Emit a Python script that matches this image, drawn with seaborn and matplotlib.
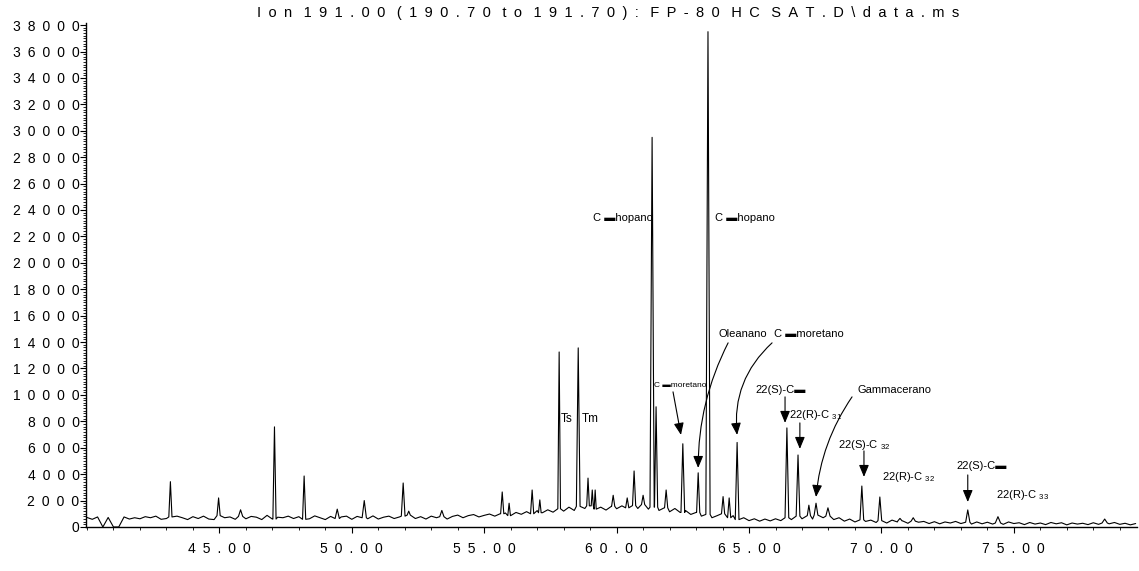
import numpy as np
import pandas as pd
import matplotlib
matplotlib.use("Agg")
import matplotlib.pyplot as plt
import seaborn as sns
from matplotlib.ticker import MultipleLocator, FixedLocator, FuncFormatter

# baseline abundance, one value every 0.2 min from 40.0 min
base_start = 40.0
base_step = 0.2
baseline = [
    720, 580, 760, 0, 720, 0, 0, 760, 600, 700,            # 40
    620, 780, 700, 820, 580, 640, 760, 820, 700, 560,      # 42
    780, 640, 820, 600, 560, 860, 700, 760, 580, 800,      # 44
    620, 800, 740, 560, 880, 600, 740, 700, 820, 640,      # 46
    780, 580, 620, 840, 700, 560, 800, 640, 760, 820,      # 48
    580, 800, 700, 620, 840, 600, 740, 820, 640, 760,      # 50
    820, 900, 640, 780, 600, 820, 700, 780, 600, 800,      # 52
    900, 700, 860, 940, 760, 880, 980, 820, 1000, 1060,    # 54
    860, 1100, 960, 1160, 1000, 1240, 1080, 1300, 1120, 1380,  # 56
    1200, 1500, 1250, 1560, 1400, 1600, 1350, 1500, 1280, 1560,  # 58
    1380, 1600, 1450, 1620, 1400, 1700, 1350, 1500, 1250, 1450,  # 60
    1150, 1400, 1100, 1250, 950, 1100, 820, 950, 700, 860,  # 62
    1000, 700, 860, 560, 700, 480, 620, 440, 600, 460,     # 64
    620, 480, 700, 560, 820, 620, 860, 600, 900, 700,      # 66
    820, 560, 700, 440, 600, 380, 540, 420, 520, 340,      # 68
    480, 300, 520, 380, 460, 280, 440, 360, 420, 260,      # 70
    400, 240, 380, 300, 420, 260, 360, 220, 380, 240,      # 72
    360, 220, 300, 200, 380, 260, 320, 180, 340, 220,      # 74
    300, 180, 340, 240, 320, 160, 300, 220, 280, 180,      # 76
    320, 200, 300, 240, 340, 200, 280, 160, 260,           # 78
]

# peaks: retention time (min), apex abundance, half width (min)
peak_time = [43.15, 44.97, 45.80, 47.08, 48.20, 49.45, 50.47, 51.94, 52.15, 53.40,
             55.68, 55.94, 56.81, 57.10, 57.83, 58.55, 58.92, 59.08, 59.19, 59.87,
             60.40, 60.66, 61.00, 61.34, 61.49, 61.87, 62.50, 63.08, 63.45, 64.02,
             64.25, 64.55, 66.43, 66.85, 67.26, 67.53, 67.98, 69.26, 69.94, 70.70,
             71.20, 73.26, 74.40, 78.43]
peak_height = [3430, 2200, 1300, 7580, 3860, 1350, 2000, 3330, 1200, 1250,
               2650, 1800, 2800, 2050, 13250, 13560, 3700, 2800, 2800, 2400,
               2200, 4240, 2400, 29500, 9100, 2800, 6300, 4100, 37500, 2300,
               2200, 6400, 7500, 5450, 1650, 1800, 1450, 3100, 2270, 650,
               700, 1290, 780, 600]
peak_halfwidth = [0.06, 0.06, 0.08, 0.06, 0.06, 0.08, 0.08, 0.07, 0.06, 0.08,
                  0.06, 0.05, 0.06, 0.05, 0.05, 0.07, 0.05, 0.04, 0.04, 0.06,
                  0.06, 0.06, 0.06, 0.08, 0.06, 0.06, 0.07, 0.06, 0.08, 0.06,
                  0.06, 0.07, 0.07, 0.07, 0.06, 0.07, 0.08, 0.07, 0.07, 0.08,
                  0.08, 0.08, 0.10, 0.10]

# build the trace
base_time = base_start + base_step * np.arange(len(baseline))
points = []
for t, v in zip(base_time, baseline):
    if all(abs(t - pt) > hw for pt, hw in zip(peak_time, peak_halfwidth)):
        points.append((t, v))
for pt, ph, hw in zip(peak_time, peak_height, peak_halfwidth):
    foot = baseline[int(round((pt - base_start) / base_step))]
    points += [(pt - hw, foot), (pt, ph), (pt + hw, foot)]
points.sort()
trace = pd.DataFrame(points, columns=["time", "abundance"])

sns.set_theme(style="ticks")
plt.rcParams["font.family"] = ["Liberation Sans", "DejaVu Sans"]
plt.rcParams["mathtext.fontset"] = "custom"
plt.rcParams["mathtext.rm"] = "Liberation Sans"
plt.rcParams["mathtext.it"] = "Liberation Sans"


def spaced(s):
    return "\u2002 ".join("\u2002".join(w) for w in s.split(" "))


fig = plt.figure(figsize=(11.39, 5.71), dpi=100)
ax = fig.add_axes([0.0759, 0.0771, 0.9221, 0.8829])

sns.lineplot(data=trace, x="time", y="abundance", ax=ax, color="black",
             linewidth=0.8, estimator=None, sort=False)

ax.set_xlim(39.98, 79.64)
ax.set_ylim(0, 38170)
ax.set_xlabel("")
ax.set_ylabel("")
for side in ["top", "right"]:
    ax.spines[side].set_visible(False)
for side in ["left", "bottom"]:
    ax.spines[side].set_linewidth(1.0)
    ax.spines[side].set_color("black")

ax.xaxis.set_major_locator(FixedLocator([45, 50, 55, 60, 65, 70, 75]))
ax.xaxis.set_minor_locator(MultipleLocator(1))
ax.yaxis.set_major_locator(MultipleLocator(2000))
ax.yaxis.set_minor_locator(MultipleLocator(200))
ax.xaxis.set_major_formatter(FuncFormatter(lambda v, p: spaced(f"{v:.2f}")))
ax.yaxis.set_major_formatter(FuncFormatter(lambda v, p: spaced(f"{int(v)}")))
ax.tick_params(axis="both", which="major", direction="out", length=4,
               width=0.8, labelsize=10, colors="black")
ax.tick_params(axis="both", which="minor", direction="out", length=2.5,
               width=0.6, colors="black")
ax.tick_params(axis="x", which="major", pad=7)
ax.tick_params(axis="y", which="major", pad=1)

fig.text(0.534, 0.977, spaced("Ion 191.00 (190.70 to 191.70): FP-80 HC SAT.D\\data.ms"),
         ha="center", va="center", fontsize=10.5, color="black")

# peak labels
labels = [
    ("C \u25achopano", 59.11, 23400, 8),
    ("C \u25achopano", 63.72, 23400, 8),
    ("Ts", 57.90, 8180, 8.5),
    ("Tm", 58.70, 8180, 8.5),
    ("C \u25acmoretano", 61.42, 10680, 6),
    ("Oleanano", 63.83, 14620, 8),
    ("C \u25acmoretano", 65.94, 14620, 8),
    ("22(S)-C\u25ac", 65.26, 10380, 8),
    ("22(R)-C $_{31}$", 66.51, 8480, 8),
    ("Gammacerano", 69.08, 10380, 8),
    ("22(S)-C $_{32}$", 68.36, 6210, 8),
    ("22(R)-C $_{32}$", 70.02, 3790, 8),
    ("22(S)-C\u25ac", 72.85, 4620, 8),
    ("22(R)-C $_{33}$", 74.32, 2420, 8),
]
for text, t, a, size in labels:
    ax.text(t, a, text, fontsize=size, family=["Liberation Sans", "DejaVu Sans"],
            ha="left", va="center", color="black")

# arrows: start, end, curvature
arrows = [
    ((62.13, 10230), (62.43, 6970), 0.0),
    ((64.21, 13940), (63.08, 4470), 0.12),
    ((65.87, 13940), (64.55, 6970), 0.25),
    ((66.36, 9850), (66.36, 7880), 0.0),
    ((66.92, 7880), (66.92, 5910), 0.0),
    ((68.89, 9850), (67.53, 2270), 0.13),
    ((69.34, 5760), (69.34, 3790), 0.0),
    ((73.26, 3940), (73.26, 1890), 0.0),
]
for start, end, rad in arrows:
    ax.annotate("", xy=end, xytext=start,
                arrowprops=dict(arrowstyle="-|>,head_length=0.6,head_width=0.25",
                                mutation_scale=12, color="black", lw=0.8,
                                shrinkA=0, shrinkB=0,
                                connectionstyle=f"arc3,rad={rad}"))

fig.savefig("out.png", dpi=100)
plt.close(fig)
